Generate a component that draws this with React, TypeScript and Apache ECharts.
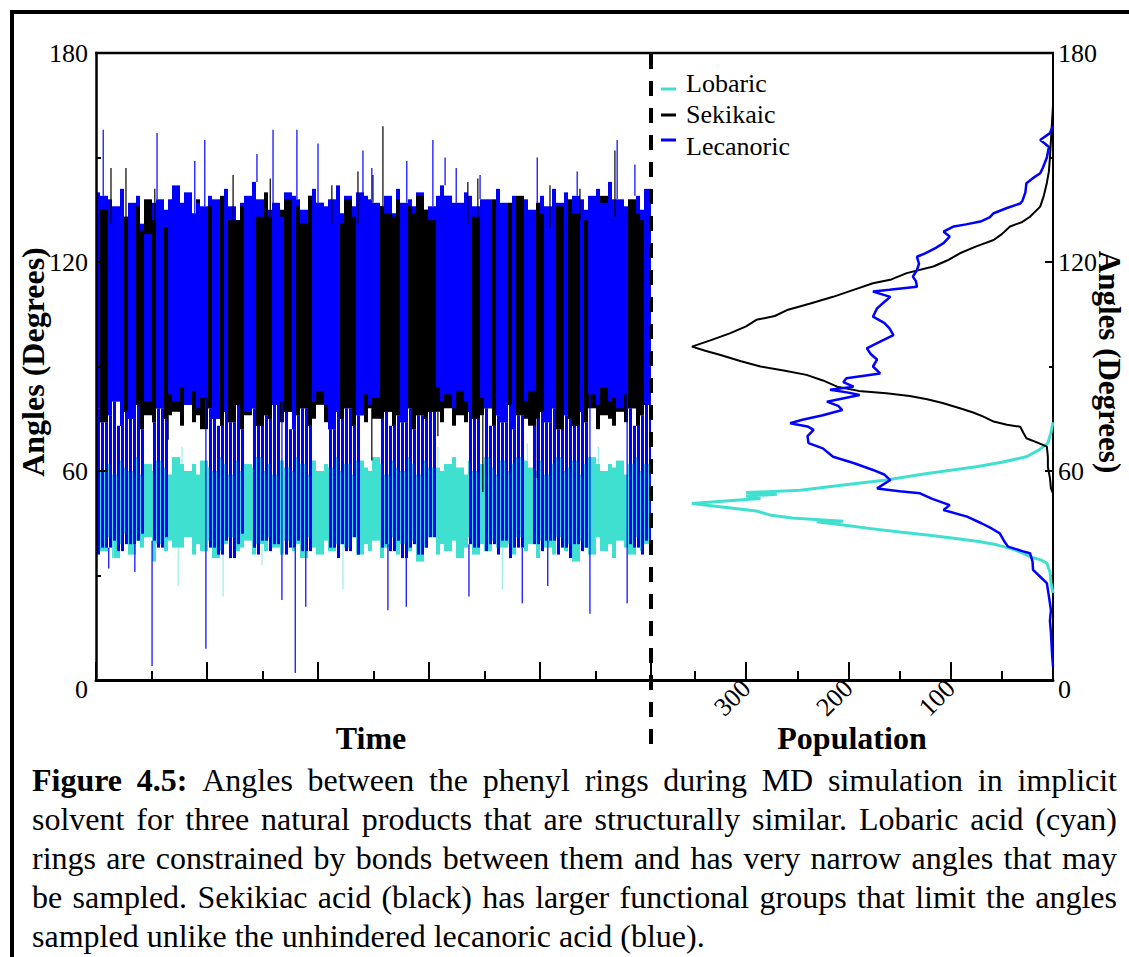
import React, { useEffect, useRef } from "react";
import * as echarts from "echarts";

const FONT = "Liberation Serif, Times New Roman, Times, serif";

const seriesNames = ["Lobaric", "Sekikaic", "Lecanoric"];
const seriesColors = ["#40E0D0", "#000000", "#0000FF"];

// Time series (left panel): 100 bins along Time (0..10); per-bin low / high of the dense band
const lobaricLow = [
  40, 37, 41, 35, 39, 42, 36, 40, 38, 41,
  34, 39, 37, 40, 38, 38, 41, 36, 39, 37,
  40, 35, 37, 39, 41, 37, 38, 40, 36, 39,
  37, 41, 38, 36, 40, 37, 39, 35, 41, 38,
  36, 40, 37, 39, 39, 38, 41, 36, 39, 37,
  40, 35, 38, 41, 36, 39, 37, 40, 34, 38,
  41, 36, 39, 37, 40, 35, 38, 41, 36, 39,
  37, 40, 38, 38, 39, 36, 41, 37, 39, 35,
  40, 38, 36, 41, 37, 39, 34, 40, 38, 36,
  41, 37, 39, 35, 40, 38, 36, 41, 37, 39,
];
const lobaricHigh = [
  64, 60, 62, 59, 63, 61, 60, 64, 59, 62,
  60, 63, 61, 59, 64, 62, 60, 62, 59, 63,
  61, 60, 64, 62, 59, 63, 60, 62, 61, 64,
  60, 62, 59, 63, 61, 60, 64, 62, 59, 63,
  60, 62, 61, 64, 60, 62, 59, 63, 61, 60,
  64, 62, 59, 63, 61, 60, 64, 62, 59, 63,
  61, 61, 60, 62, 64, 61, 59, 63, 60, 62,
  64, 61, 59, 63, 60, 62, 64, 63, 61, 60,
  63, 59, 62, 64, 60, 61, 63, 59, 62, 64,
  62, 60, 62, 61, 63, 59, 62, 64, 60, 62,
];
const sekikaicLow = [
  78, 74, 76, 80, 73, 77, 75, 79, 72, 76,
  74, 78, 75, 76, 77, 73, 79, 74, 76, 72,
  78, 75, 73, 77, 74, 79, 72, 76, 78, 73,
  76, 75, 79, 74, 77, 72, 76, 78, 73, 75,
  79, 74, 72, 77, 75, 78, 73, 76, 74, 78,
  75, 75, 77, 73, 76, 74, 78, 72, 76, 75,
  77, 77, 74, 78, 73, 76, 74, 77, 75, 76,
  78, 73, 76, 74, 79, 72, 76, 75, 73, 75,
  77, 74, 78, 72, 76, 75, 73, 77, 74, 78,
  72, 76, 75, 73, 77, 74, 78, 73, 76, 79,
];
const sekikaicHigh = [
  130, 135, 131, 128, 133, 133, 131, 136, 129, 138,
  132, 130, 130, 134, 137, 129, 135, 131, 138, 133,
  136, 130, 139, 134, 132, 132, 136, 131, 137, 133,
  140, 133, 130, 135, 138, 132, 136, 131, 139, 134,
  137, 130, 131, 135, 131, 138, 133, 131, 134, 137,
  132, 136, 134, 133, 138, 131, 136, 134, 139, 135,
  132, 137, 133, 139, 131, 136, 134, 131, 133, 135,
  132, 138, 134, 131, 137, 133, 139, 135, 132, 137,
  134, 130, 131, 136, 133, 138, 134, 132, 132, 137,
  135, 139, 133, 133, 136, 131, 138, 134, 132, 135,
];
const lecanoricLow = [
  36, 38, 38, 40, 37, 39, 39, 40, 42, 80,
  40, 38, 41, 82, 80, 84, 79, 83, 78, 81,
  38, 38, 36, 40, 35, 39, 42, 77, 38, 36,
  40, 37, 39, 80, 36, 38, 40, 37, 37, 80,
  83, 79, 38, 35, 39, 37, 41, 36, 82, 79,
  81, 38, 39, 37, 40, 35, 38, 39, 36, 38,
  41, 84, 80, 82, 78, 83, 80, 39, 38, 81,
  37, 39, 36, 40, 35, 38, 38, 80, 83, 39,
  37, 40, 40, 36, 38, 35, 39, 37, 38, 82,
  79, 84, 80, 81, 78, 82, 39, 38, 36, 40,
];
const lecanoricHigh = [
  140, 139, 138, 136, 141, 133, 137, 139, 131, 128,
  137, 138, 135, 138, 142, 137, 140, 134, 137, 136,
  139, 138, 134, 141, 136, 132, 137, 139, 143, 138,
  138, 135, 137, 133, 140, 139, 138, 135, 139, 141,
  137, 136, 138, 142, 134, 139, 136, 140, 139, 138,
  137, 136, 139, 134, 141, 137, 138, 136, 140, 135,
  136, 139, 142, 139, 137, 137, 140, 139, 136, 138,
  138, 135, 141, 137, 134, 139, 136, 138, 135, 137,
  139, 136, 141, 137, 140, 134, 139, 138, 135, 139,
  141, 137, 143, 138, 138, 136, 137, 139, 135, 141,
];

// Isolated spikes (time, angle) standing out of each band
const lobaricSpikeTime = [0.31, 1.48, 1.55, 2.29, 2.99, 4.45, 6.16, 7.32, 7.77, 9.05];
const lobaricSpikeAngle = [35, 27, 67, 24, 33, 26, 67, 26, 68, 67];
const sekikaicSpikeTime = [0.27, 0.54, 1.06, 1.3, 2.47, 3.14, 4.25, 4.72, 4.97, 4.99, 5.17, 6.16, 6.7, 6.88, 6.97, 7.95, 8.18, 8.72, 9.35];
const sekikaicSpikeAngle = [147, 147, 141, 69, 145, 144, 142, 146, 63, 145, 159, 70, 143, 144, 54, 58, 142, 141, 152];
const lecanoricSpikeTime = [
  0.13, 0.23, 0.7, 1.01, 1.1, 1.78, 1.96, 1.98, 2.9, 3.19, 3.35, 3.59, 3.62, 3.78, 4.0,
  4.81, 4.97, 5.26, 5.59, 5.6, 6.07, 6.29, 6.49, 6.72, 6.92, 7.68, 7.95, 8.14, 8.67, 8.9,
  9.39, 9.57, 9.71,
];
const lecanoricSpikeAngle = [
  158, 32, 31, 4, 157, 149, 155, 9, 151, 158, 23, 2, 158, 21, 154,
  152, 147, 20, 21, 149, 155, 150, 147, 24, 145, 22, 150, 27, 146, 19,
  155, 22, 148,
];

// Population histograms (right panel): angle (degrees) and population
const lobaricHistAngle = [
  74, 71, 68, 66, 64.1, 62.5, 61.2, 60.2, 59.3, 57.4, 56, 54.5, 53.8, 53.3, 52.8, 52.1,
  51.4, 50.7, 49.3, 48.5, 47.4, 46.5, 45.6, 45.4, 44.5, 43.6, 42.5, 41.6, 40.6, 39.7,
  38.8, 37.8, 36.5, 35.4, 34.5, 33.5, 31, 28, 25,
];
const lobaricHistPop = [
  0, 2, 5, 14, 26, 50, 75, 100, 123, 163, 205, 247, 300, 270, 300, 286,
  320, 353, 313, 290, 277, 255, 205, 231, 205, 182, 150, 123, 95, 71,
  55, 42, 30, 22.5, 12, 6, 3, 2, 0,
];
const sekikaicHistAngle = [
  165, 160, 150, 146, 142.7, 139, 135.9, 133, 131.5, 130.2, 128, 126.3, 124.5, 122.5,
  120.5, 118.7, 116.8, 115, 113.9, 112, 110, 108, 106.2, 104.5, 103.4, 101.5, 99.5,
  97.5, 95.7, 94.5, 93.3, 91.5, 90, 88.8, 87.6, 86, 84.2, 83, 82.3, 81.5, 80.6, 79.5,
  78, 76.8, 75.6, 74.2, 73.3, 72.7, 71, 69.4, 68, 67, 64, 61.2, 58, 55, 53.6,
];
const sekikaicHistPop = [
  0, 1, 3, 4, 6, 9, 12.5, 22.5, 30, 42, 50, 58, 75, 91,
  103, 117, 143, 158, 176, 195, 215, 238, 260, 272, 290, 300, 316,
  335, 353, 340, 325, 305, 286, 262, 241, 225, 211, 190, 163, 140, 123, 108,
  91, 78, 68, 58, 45, 32, 29, 26, 14, 6, 5, 5, 3, 2, 0,
];
const lecanoricHistAngle = [
  159, 157, 155, 154, 153, 150, 147, 145.5, 144, 142.6, 140, 137.5, 136.8, 135.5, 134,
  132.8, 131.6, 130.8, 130.2, 128.7, 127.3, 125.4, 124, 122.5, 121.5, 119.5, 117.7,
  115.8, 114.5, 112.9, 112, 111.5, 110, 108.5, 106.7, 104.3, 102.5, 101, 99, 97, 95.2,
  93.5, 92, 90, 88, 86.6, 85.5, 84.2, 83.3, 82.5, 81.8, 79.9, 78.7, 77.5, 76, 74.7,
  73.7, 72.8, 71.8, 70, 68, 66.5, 64.1, 62.3, 60.3, 59, 57.4, 55, 54.2, 53.6, 52, 50.2,
  48.8, 46.9, 45, 43.5, 42.1, 40, 38.3, 37, 36.4, 34, 31.6, 29.5, 27.8, 24, 20.1, 17,
  13.5, 8, 3.8,
];
const lecanoricHistPop = [
  0, 3, 12.5, 8, 4, 6, 10, 12.5, 20, 26, 27, 30, 32, 45, 58,
  62, 71, 85, 97, 107, 101, 107, 115, 125, 133, 131, 133,
  137, 134, 133, 160, 176, 159, 165, 172, 176, 165, 160, 156, 170, 182,
  178, 172, 176, 169, 202, 205, 195, 218, 200, 189, 221, 210, 206, 225, 245,
  257, 240, 234, 240, 239, 225, 215, 195, 176, 165, 159, 172, 150, 130, 118, 101,
  107, 84, 70, 60, 52, 48, 44, 30, 22.5, 20, 19.5, 12, 6, 4, 2, 3,
  2, 1, 0,
];

const angleMax = 180;
const angleStep = 60;
const timeMax = 10;
const popMax = 393;
const popMajorTicks = [0, 100, 200, 300];
const popMinorTicks = [50, 150, 250, 350];
const popLabels = [100, 200, 300];

const captionLines = [
  { bold: "Figure 4.5:", text: "Angles between the phenyl rings during MD simulation in implicit", justify: true },
  { bold: "", text: "solvent for three natural products that are structurally similar. Lobaric acid (cyan)", justify: true },
  { bold: "", text: "rings are constrained by bonds between them and has very narrow angles that may", justify: true },
  { bold: "", text: "be sampled. Sekikiac acid (black) has larger functional groups that limit the angles", justify: true },
  { bold: "", text: "sampled unlike the unhindered lecanoric acid (blue).", justify: false },
];

function captionGraphics() {
  const CAP = 32;
  const L = 32;
  const R = 1117;
  const Y0 = 780;
  const DY = 39;
  const canvas = document.createElement("canvas");
  const ctx = canvas.getContext("2d")!;
  const fontOf = (b: boolean) => `${b ? "bold " : ""}${CAP}px ${FONT}`;
  const measure = (t: string, b: boolean) => {
    ctx.font = fontOf(b);
    return ctx.measureText(t).width;
  };
  const els: any[] = [];
  captionLines.forEach((line, li) => {
    const words: { w: string; b: boolean }[] = [];
    if (line.bold) line.bold.split(" ").forEach((w) => words.push({ w, b: true }));
    line.text.split(" ").forEach((w) => words.push({ w, b: false }));
    const widths = words.map((o) => measure(o.w, o.b));
    const total = widths.reduce((a, b) => a + b, 0);
    const gap = line.justify ? (R - L - total) / (words.length - 1) : measure(" ", false);
    let x = L;
    const y = Y0 + li * DY;
    words.forEach((o, i) => {
      els.push({
        type: "text",
        x,
        y,
        silent: true,
        style: {
          text: o.w,
          fill: "#000",
          fontSize: CAP,
          fontFamily: FONT,
          fontWeight: o.b ? "bold" : "normal",
          align: "left",
          verticalAlign: "middle",
          textAlign: "left",
          textVerticalAlign: "middle",
        },
      });
      x += widths[i] + gap;
    });
  });
  return els;
}

function textEl(text: string, x: number, y: number, size: number, bold: boolean, rotation = 0, align = "center") {
  return {
    type: "text",
    x,
    y,
    rotation,
    silent: true,
    style: {
      text,
      fill: "#000",
      fontSize: size,
      fontFamily: FONT,
      fontWeight: bold ? "bold" : "normal",
      align,
      verticalAlign: "middle",
      textAlign: align,
      textVerticalAlign: "middle",
    },
  };
}

function lineEl(x1: number, y1: number, x2: number, y2: number, color: string, width: number, dash?: number[]) {
  return {
    type: "line",
    silent: true,
    shape: { x1, y1, x2, y2 },
    style: { stroke: color, lineWidth: width, lineDash: dash || null },
    z: 10,
  };
}

const GRID_LEFT = 96;
const BLUE_SPLIT = 60; // Lecanoric bins whose low stays above this are its "upper-only" stretches

// dense vertical hatch for each bin between its low and high values
function bandSeries(
  lo: number[],
  hi: number[],
  color: string,
  pitch: number,
  width: number,
  offset: number,
  z: number,
  keep: (i: number) => boolean
) {
  const bin = timeMax / lo.length;
  const data = lo.map((l, i) => [i * bin, l, hi[i], (i + 1) * bin, keep(i) && hi[i] > l ? 1 : 0]);
  return {
    type: "custom",
    xAxisIndex: 0,
    yAxisIndex: 0,
    silent: true,
    clip: true,
    z,
    encode: { x: [0, 3], y: [1, 2] },
    data,
    renderItem: (params: any, api: any) => {
      if (!api.value(4)) return { type: "group", children: [] };
      const p0 = api.coord([api.value(0), api.value(1)]);
      const p1 = api.coord([api.value(3), api.value(2)]);
      const children: any[] = [];
      let k = Math.ceil((p0[0] - GRID_LEFT - offset) / pitch);
      for (;;) {
        const x = GRID_LEFT + offset + k * pitch;
        if (x >= p1[0]) break;
        children.push({
          type: "line",
          shape: { x1: x, y1: p0[1], x2: x, y2: p1[1] },
          style: { stroke: color, lineWidth: width },
        });
        k++;
      }
      return { type: "group", children };
    },
  };
}

// single thin spike line from the band edge out to the spike value
function spikeSeries(times: number[], angles: number[], lo: number[], hi: number[], color: string, width: number, z: number) {
  const bin = timeMax / lo.length;
  const data = times.map((t, i) => {
    const b = Math.min(lo.length - 1, Math.floor(t / bin));
    const base = angles[i] < lo[b] ? lo[b] : hi[b];
    return [t, angles[i], base];
  });
  return {
    type: "custom",
    xAxisIndex: 0,
    yAxisIndex: 0,
    silent: true,
    clip: true,
    z,
    encode: { x: 0, y: [1, 2] },
    data,
    renderItem: (params: any, api: any) => {
      const a = api.coord([api.value(0), api.value(1)]);
      const b = api.coord([api.value(0), api.value(2)]);
      return {
        type: "line",
        shape: { x1: a[0], y1: a[1], x2: b[0], y2: b[1] },
        style: { stroke: color, lineWidth: width },
      };
    },
  };
}

export default function App() {
  const ref = useRef<HTMLDivElement>(null);
  useEffect(() => {
    if (!ref.current) return;
    const chart = echarts.init(ref.current, null, { renderer: "svg" });

    const labelStyle = { color: "#000", fontSize: 26, fontFamily: FONT };
    const zeroRich = { z: { color: "#000", fontSize: 26, fontFamily: FONT, padding: [18, 0, 0, 0] } };
    const tickStyle = { color: "#000", width: 2 };

    const histA = [lobaricHistAngle, sekikaicHistAngle, lecanoricHistAngle];
    const histP = [lobaricHistPop, sekikaicHistPop, lecanoricHistPop];
    const histWidth = [3, 2, 2.5];

    const all = () => true;
    // Lecanoric split at the bottom of the Sekikaic band: its lower part sits over Lobaric, its upper part meets Sekikaic
    const blueLowerHi = lecanoricHigh.map((h, i) => Math.min(h, sekikaicLow[i]));
    const blueUpperLo = lecanoricLow.map((l, i) => Math.max(l, sekikaicLow[i]));
    // in each bin, Lecanoric is drawn on top where it stays high or clearly reaches higher than Sekikaic
    const blueTop = (i: number) => lecanoricLow[i] >= BLUE_SPLIT || lecanoricHigh[i] > sekikaicHigh[i] + 5;
    const blackTop = (i: number) => !blueTop(i);

    const graphics: any[] = [
      lineEl(10, 12, 1129, 12, "#000", 4),
      lineEl(12, 10, 12, 957, "#000", 4),
      lineEl(95, 53, 1054, 53, "#000", 2.5),
      lineEl(651, 54, 651, 752, "#000", 4, [15, 12]),
      lineEl(661, 89, 676, 89, seriesColors[0], 3),
      lineEl(661, 115, 676, 115, seriesColors[1], 3),
      lineEl(661, 140, 676, 140, seriesColors[2], 3),
      textEl(seriesNames[0], 686, 83, 26, false, 0, "left"),
      textEl(seriesNames[1], 686, 114, 26, false, 0, "left"),
      textEl(seriesNames[2], 686, 146, 26, false, 0, "left"),
      textEl("Angles (Degrees)", 33, 362, 32, true, Math.PI / 2),
      textEl("Angles (Degrees)", 1109, 362, 31, true, -Math.PI / 2),
      textEl("Time", 371, 738, 32, true),
      textEl("Population", 852, 738, 32, true),
      ...captionGraphics(),
    ];

    chart.setOption({
      animation: false,
      backgroundColor: "#fff",
      grid: [
        { left: 96, top: 53, width: 555, height: 627, outerBoundsMode: "none", containLabel: false },
        { left: 651, top: 53, width: 402, height: 627, outerBoundsMode: "none", containLabel: false },
      ],
      xAxis: [
        {
          gridIndex: 0,
          type: "value",
          min: 0,
          max: timeMax,
          interval: 2,
          axisLine: { show: true, onZero: false, lineStyle: { color: "#000", width: 3 } },
          axisTick: { show: true, inside: true, length: 18, lineStyle: tickStyle },
          minorTick: { show: true, splitNumber: 2, length: 9, lineStyle: tickStyle },
          axisLabel: { show: false },
          splitLine: { show: false },
          z: 20,
        },
        {
          gridIndex: 1,
          type: "value",
          min: 0,
          max: popMax,
          inverse: true,
          position: "bottom",
          axisLine: { show: true, onZero: false, lineStyle: { color: "#000", width: 3 } },
          axisTick: { show: true, inside: true, length: 18, lineStyle: tickStyle, customValues: popMajorTicks },
          axisLabel: { ...labelStyle, rotate: 45, margin: 4, customValues: popLabels },
          splitLine: { show: false },
        },
        {
          gridIndex: 1,
          type: "value",
          min: 0,
          max: popMax,
          inverse: true,
          position: "bottom",
          axisLine: { show: false, onZero: false },
          axisTick: { show: true, inside: true, length: 9, lineStyle: tickStyle, customValues: popMinorTicks },
          axisLabel: { show: false },
          splitLine: { show: false },
        },
      ],
      yAxis: [
        {
          gridIndex: 0,
          type: "value",
          min: 0,
          max: angleMax,
          interval: angleStep,
          position: "left",
          axisLine: { show: true, onZero: false, lineStyle: { color: "#000", width: 2.5 } },
          axisTick: { show: true, inside: true, length: 11, lineStyle: tickStyle },
          minorTick: { show: true, splitNumber: 2, length: 5, lineStyle: tickStyle },
          axisLabel: {
            ...labelStyle,
            margin: 8,
            formatter: (v: number) => (v === 0 ? "{z|0}" : String(v)),
            rich: zeroRich,
          },
          splitLine: { show: false },
          z: 20,
        },
        {
          gridIndex: 1,
          type: "value",
          min: 0,
          max: angleMax,
          interval: angleStep,
          position: "right",
          axisLine: { show: true, onZero: false, lineStyle: { color: "#000", width: 2 } },
          axisTick: { show: true, inside: true, length: 8, lineStyle: tickStyle },
          minorTick: { show: true, splitNumber: 2, length: 4, lineStyle: tickStyle },
          axisLabel: {
            ...labelStyle,
            margin: 5,
            formatter: (v: number) => (v === 0 ? "{z|0}" : String(v)),
            rich: zeroRich,
          },
          splitLine: { show: false },
        },
      ],
      series: [
        // Lobaric: solid turquoise band at the bottom
        bandSeries(lobaricLow, lobaricHigh, seriesColors[0], 4, 4, 2, 2, all),
        spikeSeries(lobaricSpikeTime, lobaricSpikeAngle, lobaricLow, lobaricHigh, "#7FEDE3", 1, 2),
        // Lecanoric lower part, hatched so Lobaric shows through
        bandSeries(lecanoricLow, blueLowerHi, seriesColors[2], 4, 3, 2.5, 3, all),
        // under layer of the upper band
        bandSeries(sekikaicLow, sekikaicHigh, seriesColors[1], 4, 4, 2, 3, blueTop),
        bandSeries(blueUpperLo, lecanoricHigh, seriesColors[2], 4, 4, 2, 3, blackTop),
        // top layer of the upper band (solid)
        bandSeries(sekikaicLow, sekikaicHigh, seriesColors[1], 4, 4, 2, 4, blackTop),
        bandSeries(blueUpperLo, lecanoricHigh, seriesColors[2], 4, 4, 2, 4, blueTop),
        spikeSeries(sekikaicSpikeTime, sekikaicSpikeAngle, sekikaicLow, sekikaicHigh, seriesColors[1], 1.2, 5),
        spikeSeries(lecanoricSpikeTime, lecanoricSpikeAngle, lecanoricLow, lecanoricHigh, seriesColors[2], 1.2, 5),
        ...seriesNames.map((name, i) => ({
          name: name + " population",
          type: "line",
          xAxisIndex: 1,
          yAxisIndex: 1,
          data: histA[i].map((a, k) => [histP[i][k], a]),
          symbol: "none",
          showSymbol: false,
          silent: true,
          clip: true,
          lineStyle: { color: seriesColors[i], width: histWidth[i] },
          z: 2 + i,
        })),
      ],
      graphic: graphics,
    });
    return () => chart.dispose();
  }, []);
  return (
    <div
      ref={ref}
      style={{ position: "absolute", left: 0, top: 0, width: 1129, height: 957, background: "#fff" }}
    />
  );
}
